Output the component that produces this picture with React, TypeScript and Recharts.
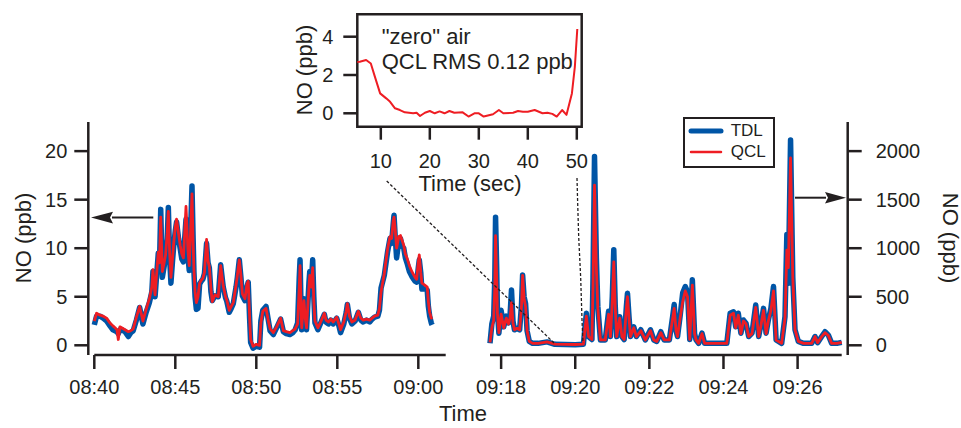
import {
  LineChart,
  Line,
  XAxis,
  YAxis,
  ReferenceArea,
  Legend,
} from "recharts";

// minutes after 08:40
const leftMinutes = [
  0.0, 0.14, 0.35, 0.55, 0.76, 0.97, 1.15, 1.28, 1.4, 1.48, 1.58, 1.69, 1.9, 2.1, 2.25, 2.4, 2.6, 2.8, 3.0, 3.2,
  3.4, 3.55, 3.62, 3.75, 3.95, 4.02, 4.1, 4.2, 4.3, 4.4, 4.5, 4.57, 4.65, 4.73, 4.82, 4.9, 5.0, 5.08, 5.2, 5.3,
  5.4, 5.5, 5.58, 5.66, 5.72, 5.78, 5.86, 5.95, 6.03, 6.1, 6.15, 6.22, 6.3, 6.4, 6.5, 6.6, 6.7, 6.8, 6.93, 7.02,
  7.1, 7.2, 7.28, 7.45, 7.65, 7.8, 7.96, 8.1, 8.17, 8.33, 8.45, 8.58, 8.75, 8.83, 8.95, 9.05, 9.14, 9.3, 9.42, 9.5,
  9.58, 9.65, 9.8, 10.0, 10.2, 10.28, 10.4, 10.6, 10.72, 10.85, 11.05, 11.25, 11.5, 11.67, 11.85, 12.08, 12.25, 12.4, 12.55, 12.65,
  12.7, 12.76, 12.8, 12.94, 13.02, 13.1, 13.25, 13.3, 13.4, 13.48, 13.55, 13.62, 13.8, 13.95, 14.2, 14.3, 14.45, 14.6, 14.75, 14.96,
  15.1, 15.2, 15.4, 15.55, 15.62, 15.75, 15.9, 16.1, 16.3, 16.45, 16.6, 16.8, 17.0, 17.15, 17.3, 17.5, 17.6, 17.7, 17.9, 18.1,
  18.25, 18.35, 18.45, 18.5, 18.58, 18.66, 18.8, 18.9, 19.0, 19.1, 19.2, 19.3, 19.45, 19.6, 19.8, 19.9, 20.0, 20.06, 20.15, 20.22,
  20.4, 20.55, 20.62, 20.7, 20.8, 20.85,
];
const leftTDL = [
  2.1, 3.0, 3.0, 2.8, 2.5, 2.0, 1.6, 1.5, 1.4, 1.2, 1.6, 1.6, 1.4, 0.9, 1.3, 1.5, 2.6, 3.9, 2.2, 3.4,
  4.4, 5.5, 7.6, 5.0, 9.5, 8.0, 14.0, 7.0, 8.0, 9.1, 11.0, 14.2, 9.0, 6.4, 8.5, 10.2, 11.8, 12.7, 11.0, 10.0,
  8.9, 8.6, 11.0, 13.0, 11.5, 9.2, 7.7, 12.0, 16.4, 11.0, 7.6, 5.0, 3.7, 3.8, 6.3, 6.6, 6.8, 7.4, 10.5, 8.5,
  8.0, 5.5, 4.6, 5.1, 5.0, 8.3, 6.0, 4.9, 4.6, 3.4, 3.8, 4.3, 6.0, 7.0, 8.8, 7.0, 5.1, 4.6, 6.0, 6.5,
  3.0, 0.3, -0.3, -0.1, -0.2, 2.5, 3.6, 4.0, 2.8, 1.5, 1.1, 1.8, 2.7, 1.4, 1.2, 1.1, 1.3, 1.6, 2.3, 7.0,
  8.8, 4.0, 1.6, 4.8, 3.0, 1.6, 6.5, 7.6, 6.5, 8.8, 5.0, 2.3, 1.6, 2.2, 3.2, 2.4, 2.2, 2.6, 2.2, 2.8,
  2.0, 1.3, 2.2, 3.4, 4.2, 2.8, 2.2, 2.5, 3.4, 2.6, 2.4, 2.6, 2.4, 2.7, 2.9, 3.0, 3.6, 5.9, 7.2, 9.6,
  11.0, 10.5, 12.5, 13.4, 11.0, 9.0, 10.8, 11.0, 10.2, 10.0, 9.0, 8.5, 7.6, 7.1, 6.6, 6.5, 8.0, 8.8, 7.5, 5.8,
  5.8, 5.7, 4.0, 3.0, 2.3, 2.1,
];
const leftQCL = [
  2.5, 3.3, 3.1, 3.0, 2.8, 2.3, 2.0, 1.8, 1.6, 0.6, 1.9, 1.8, 1.6, 1.4, 1.5, 1.7, 2.9, 4.0, 2.5, 3.7,
  4.8, 6.0, 7.8, 5.2, 9.6, 8.5, 13.2, 7.6, 8.4, 9.3, 11.5, 13.8, 9.5, 7.0, 8.8, 10.5, 12.2, 13.0, 11.5, 10.3,
  9.4, 9.0, 11.5, 14.3, 12.0, 9.8, 8.2, 12.0, 15.6, 10.5, 7.8, 5.5, 4.4, 5.0, 6.4, 6.7, 6.9, 7.5, 10.9, 8.7,
  8.1, 5.8, 4.5, 5.2, 5.0, 8.2, 6.1, 5.0, 4.7, 3.6, 4.0, 4.4, 6.2, 7.2, 8.8, 7.2, 5.3, 4.8, 6.3, 6.6,
  3.2, 0.6, -0.1, 0.1, 0.0, 2.3, 3.5, 3.8, 2.7, 1.7, 1.3, 1.9, 2.8, 1.5, 1.4, 1.3, 1.5, 1.7, 2.2, 6.0,
  8.2, 4.0, 1.8, 4.6, 2.8, 1.8, 6.0, 7.2, 6.0, 8.0, 4.5, 2.5, 1.8, 2.3, 3.3, 2.6, 2.4, 2.7, 2.4, 2.9,
  2.2, 1.6, 2.4, 3.5, 4.3, 3.0, 2.4, 2.6, 3.5, 2.8, 2.6, 2.7, 2.6, 2.8, 3.0, 3.1, 3.8, 5.5, 7.4, 9.9,
  11.2, 11.0, 12.8, 13.2, 11.8, 10.0, 11.2, 11.3, 10.8, 10.3, 9.4, 9.0, 8.2, 7.6, 7.0, 6.8, 8.6, 9.3, 7.5, 6.4,
  6.2, 6.0, 4.5, 3.4, 2.8, 2.9,
];

// minutes after 09:18
const rightMinutes = [
  -0.3, -0.25, -0.2, -0.17, -0.15, -0.12, -0.1, -0.06, 0.0, 0.07, 0.14, 0.2, 0.24, 0.28, 0.32, 0.36, 0.43, 0.5, 0.55, 0.58,
  0.62, 0.66, 0.7, 0.76, 0.85, 1.0, 1.24, 1.45, 2.0, 2.22, 2.3, 2.36, 2.45, 2.48, 2.52, 2.57, 2.61, 2.68, 2.81, 2.9,
  2.95, 3.0, 3.04, 3.08, 3.12, 3.2, 3.26, 3.32, 3.38, 3.41, 3.45, 3.49, 3.58, 3.65, 3.77, 3.89, 4.03, 4.12, 4.2, 4.31,
  4.4, 4.54, 4.63, 4.67, 4.72, 4.76, 4.83, 4.9, 4.97, 5.03, 5.09, 5.16, 5.22, 5.26, 5.33, 5.42, 5.49, 6.09, 6.18, 6.27,
  6.33, 6.4, 6.47, 6.54, 6.61, 6.68, 6.77, 6.87, 6.95, 7.0, 7.08, 7.15, 7.21, 7.28, 7.35, 7.42, 7.57, 7.66, 7.71, 7.75,
  7.81, 7.87, 7.93, 8.02, 8.16, 8.38, 8.47, 8.54, 8.65, 8.74, 8.83, 8.92, 9.06, 9.19,
];
const rightTDL = [
  20, 220, 300, 700, 1320, 800, 360, 124, 360, 190, 300, 230, 300, 570, 250, 160, 175, 160, 420, 725,
  500, 430, 150, 40, 20, 20, 35, 10, 5, 10, 330, 90, 60, 700, 1945, 900, 400, 55, 55, 350,
  90, 500, 985, 400, 90, 295, 90, 60, 400, 535, 300, 90, 190, 90, 160, 55, 160, 55, 40, 140,
  55, 55, 300, 420, 150, 90, 300, 540, 605, 550, 60, 675, 120, 55, 20, 125, 20, 20, 330, 345,
  190, 330, 125, 260, 225, 90, 125, 415, 90, 190, 380, 125, 260, 380, 605, 55, 20, 295, 1140, 640,
  2115, 700, 160, 40, 20, 20, 90, 27, 90, 140, 105, 20, 20, 30,
];
const rightQCL = [
  30, 180, 260, 600, 1130, 700, 330, 130, 320, 180, 280, 220, 280, 440, 230, 160, 175, 160, 400, 720,
  480, 400, 150, 40, 20, 20, 35, 12, 8, 12, 300, 90, 60, 600, 1650, 800, 380, 55, 55, 320,
  90, 450, 860, 380, 90, 280, 90, 60, 380, 500, 280, 90, 180, 90, 150, 55, 150, 55, 40, 130,
  55, 55, 280, 380, 150, 90, 280, 450, 560, 500, 60, 620, 120, 55, 20, 120, 20, 20, 310, 330,
  180, 310, 120, 250, 220, 90, 120, 390, 90, 180, 360, 120, 250, 360, 560, 55, 20, 280, 980, 800,
  1930, 700, 160, 40, 20, 20, 90, 27, 90, 130, 100, 20, 20, 30,
];

// "zero" air inset
const insetSeconds = [
  5.2, 5.7, 7.0, 7.96, 8.8, 9.86, 11.1, 11.9, 12.9, 13.9, 14.9, 16.6, 17.3, 18.0, 19.0, 20.0, 21.0, 22.0, 23.0, 24.0,
  25.0, 26.7, 27.9, 29.1, 30.0, 31.0, 32.9, 34.1, 35.0, 37.0, 38.0, 39.0, 40.0, 41.4, 43.0, 44.0, 45.0, 45.9, 47.0, 47.9,
  49.0, 49.6, 50.1,
];
const insetQCL = [
  2.68, 2.69, 2.78, 2.6, 1.9, 1.04, 0.78, 0.6, 0.26, 0.17, 0.05, 0.0, 0.03, -0.14, 0.03, 0.12, 0.0, 0.1, 0.0, 0.12,
  0.03, 0.05, -0.17, 0.0, 0.0, -0.17, -0.05, 0.17, 0.0, 0.03, 0.12, 0.08, 0.08, 0.17, 0.0, 0.03, -0.03, -0.17, 0.17, -0.08,
  1.04, 2.42, 4.4,
];

const leftTicks = [520, 525, 530, 535, 540];
const rightTicks = [558, 560, 562, 564, 566];
const leftYTicks = [0, 5, 10, 15, 20];
const rightYTicks = [0, 500, 1000, 1500, 2000];
const insetXTicks = [10, 20, 30, 40, 50];
const insetYTicks = [0, 2, 4];
const legendOrder = ["TDL", "QCL"];

const leftData = leftMinutes.map((m, i) => ({ time: 520 + m, TDL: leftTDL[i], QCL: leftQCL[i] }));
const rightData = rightMinutes.map((m, i) => ({ time: 558 + m, TDL: rightTDL[i], QCL: rightQCL[i] }));
const insetData = insetSeconds.map((s, i) => ({ sec: s, QCL: insetQCL[i] }));

const INK = "#231f20";
const BLUE = "#0055a6";
const RED = "#ee1d23";
const FONT = '"Liberation Sans", Arial, Helvetica, sans-serif';
const tickStyle = { fill: INK, fontSize: 20, fontFamily: FONT };
const axisStroke = { stroke: INK, strokeWidth: 2.5 };
const TDL_W = 5.5;
const QCL_W = 2.8;

const hhmm = (m: number) =>
  `${String(Math.floor(m / 60)).padStart(2, "0")}:${String(Math.round(m % 60)).padStart(2, "0")}`;

const legendWidths: Record<string, number> = { TDL: 5, QCL: 2.5 };

function LegendBox(props: any) {
  const items = [...(props.payload || [])].sort(
    (a: any, b: any) => legendOrder.indexOf(a.value) - legendOrder.indexOf(b.value)
  );
  return (
    <div
      style={{
        width: 88,
        height: 47,
        border: `2px solid ${INK}`,
        background: "#fff",
        fontFamily: FONT,
        fontSize: 17,
        color: INK,
        position: "relative",
      }}
    >
      {items.map((it: any, i: number) => (
        <div key={it.value} style={{ position: "absolute", left: 0, top: 2 + i * 21, height: 20, width: 88 }}>
          <svg width={40} height={20} style={{ position: "absolute", left: 3, top: 0 }}>
            <line x1={3} x2={33} y1={10} y2={10} stroke={it.color} strokeWidth={legendWidths[it.value]} strokeLinecap="round" />
          </svg>
          <span style={{ position: "absolute", left: 46, top: 0, lineHeight: "20px" }}>{it.value}</span>
        </div>
      ))}
    </div>
  );
}

function App() {
  return (
    <div style={{ position: "absolute", left: 0, top: 0, width: 961, height: 428, background: "#fff", fontFamily: FONT }}>
      <div style={{ position: "absolute", left: 0, top: 0 }}>
        <LineChart width={480} height={428} data={leftData} margin={{ top: 122, right: 34.3, bottom: 33, left: 34.3 }}>
          <XAxis
            dataKey="time"
            type="number"
            domain={[520, 541.69]}
            ticks={leftTicks}
            tickFormatter={hhmm}
            height={40}
            tickSize={14}
            tickMargin={11}
            tick={tickStyle}
            axisLine={axisStroke}
            tickLine={axisStroke}
          />
          <YAxis
            type="number"
            domain={[-1, 23]}
            ticks={leftYTicks}
            width={60}
            tickSize={14}
            tickMargin={13}
            tick={tickStyle}
            axisLine={{ ...axisStroke, transform: "translate(-6,0)" }}
            tickLine={{ ...axisStroke, transform: "translate(-6,0)" }}
          />
          <Line dataKey="TDL" stroke={BLUE} strokeWidth={TDL_W} dot={false} isAnimationActive={false} strokeLinejoin="round" />
          <Line dataKey="QCL" stroke={RED} strokeWidth={QCL_W} dot={false} isAnimationActive={false} strokeLinejoin="round" />
        </LineChart>
      </div>

      <div style={{ position: "absolute", left: 470, top: 0 }}>
        <LineChart width={491} height={428} data={rightData} margin={{ top: 122, right: 59.3, bottom: 33, left: 20 }}>
          <XAxis
            dataKey="time"
            type="number"
            domain={[557.71, 567.19]}
            ticks={rightTicks}
            tickFormatter={hhmm}
            height={40}
            tickSize={14}
            tickMargin={11}
            tick={tickStyle}
            axisLine={axisStroke}
            tickLine={axisStroke}
          />
          <YAxis
            orientation="right"
            type="number"
            domain={[-100, 2300]}
            ticks={rightYTicks}
            width={60}
            tickSize={14}
            tickMargin={20}
            tick={tickStyle}
            axisLine={{ ...axisStroke, transform: "translate(6,0)" }}
            tickLine={{ ...axisStroke, transform: "translate(6,0)" }}
          />
          <Legend
            layout="vertical"
            align="center"
            verticalAlign="middle"
            content={<LegendBox />}
            wrapperStyle={{ left: 212.7, top: 116.7, width: 92, height: 51 }}
          />
          <Line dataKey="TDL" name="TDL" stroke={BLUE} strokeWidth={TDL_W} dot={false} isAnimationActive={false} strokeLinejoin="round" />
          <Line dataKey="QCL" name="QCL" stroke={RED} strokeWidth={QCL_W} dot={false} isAnimationActive={false} strokeLinejoin="round" />
        </LineChart>
      </div>

      <div style={{ position: "absolute", left: 280, top: 0 }}>
        <LineChart width={320} height={200} data={insetData} margin={{ top: 14.3, right: 18.3, bottom: 33.3, left: 27.3 }}>
          <XAxis
            dataKey="sec"
            type="number"
            domain={[5.2, 51]}
            ticks={insetXTicks}
            height={40}
            tickSize={13}
            tickMargin={14}
            tick={tickStyle}
            axisLine={false}
            tickLine={axisStroke}
          />
          <YAxis
            type="number"
            domain={[-0.7, 5.17]}
            ticks={insetYTicks}
            width={50}
            tickSize={14}
            tickMargin={10}
            tick={tickStyle}
            axisLine={false}
            tickLine={axisStroke}
          />
          <ReferenceArea x1={5.2} x2={51} y1={-0.7} y2={5.17} fill="none" stroke={INK} strokeWidth={2.5} ifOverflow="visible" />
          <Line dataKey="QCL" stroke={RED} strokeWidth={2} dot={false} isAnimationActive={false} strokeLinejoin="round" />
        </LineChart>
      </div>

      <svg width={961} height={428} style={{ position: "absolute", left: 0, top: 0, pointerEvents: "none" }}>
        <g fontFamily={FONT} fill={INK}>
          <text x={23} y={238} fontSize={22} textAnchor="middle" dominantBaseline="central" transform="rotate(-90 23 238)">
            NO (ppb)
          </text>
          <text x={950} y={238} fontSize={22} textAnchor="middle" dominantBaseline="central" transform="rotate(90 950 238)">
            NO (ppb)
          </text>
          <text x={304} y={70} fontSize={22} textAnchor="middle" dominantBaseline="central" transform="rotate(-90 304 70)">
            NO (ppb)
          </text>
          <text x={470} y={191} fontSize={22} textAnchor="middle">
            Time (sec)
          </text>
          <text x={463} y={421} fontSize={22} textAnchor="middle">
            Time
          </text>
          <text x={381.7} y={43.5} fontSize={22}>
            "zero" air
          </text>
          <text x={381.7} y={68.5} fontSize={22}>
            QCL RMS 0.12 ppb
          </text>
        </g>
        <g stroke={INK} strokeWidth={1.3} strokeDasharray="3 2" fill="none">
          <line x1={386.7} y1={181} x2={554} y2={343} />
          <polyline points="577,178 577.5,197 578.7,237 580.7,278 582,320 583,343" />
        </g>
        <g stroke={INK} strokeWidth={2} fill={INK}>
          <line x1={112} y1={217.6} x2={153.3} y2={217.6} />
          <polygon points="91,217.6 113,211.8 110,217.6 113,223.4" stroke="none" />
          <line x1={795} y1={197.7} x2={826} y2={197.7} />
          <polygon points="846,197.7 825,191.9 828,197.7 825,203.5" stroke="none" />
        </g>
      </svg>
    </div>
  );
}

export default App;
